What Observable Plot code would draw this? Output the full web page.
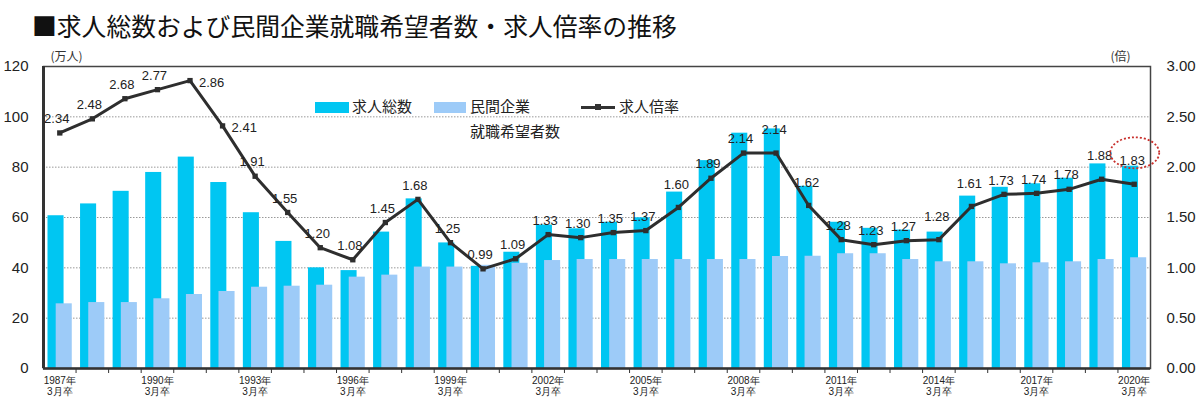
<!DOCTYPE html>
<html><head><meta charset="utf-8">
<script src="https://cdn.jsdelivr.net/npm/d3@7"></script>
<script src="https://cdn.jsdelivr.net/npm/@observablehq/plot@0.6"></script>
<style>
body{margin:0;background:#fff;font-family:"Noto Sans CJK JP","Noto Sans",sans-serif;}
#wrap{position:relative;width:1200px;height:408px;overflow:hidden;}
#title{position:absolute;left:32px;top:10px;font-size:24.8px;line-height:30px;color:#111;white-space:nowrap;}
#chart{position:absolute;left:0;top:44px;}
.lg{position:absolute;font-size:15px;line-height:18px;color:#222;white-space:nowrap;}
.sw{position:absolute;height:11px;}
</style></head>
<body>
<div id="wrap">
<div id="title">■求人総数および民間企業就職希望者数・求人倍率の推移</div>
<div id="chart"></div>
<div class="sw" style="left:315px;top:102px;width:34px;background:#00c6f2"></div>
<div class="lg" style="left:352px;top:97px">求人総数</div>
<div class="sw" style="left:434px;top:102px;width:32px;background:#9dcbf8"></div>
<div class="lg" style="left:470px;top:97px">民間企業</div>
<div style="position:absolute;left:581px;top:106px;width:34px;height:3px;background:#333"></div>
<div style="position:absolute;left:595px;top:104px;width:6px;height:6px;background:#333"></div>
<div class="lg" style="left:619px;top:97px">求人倍率</div>
<div class="lg" style="left:470px;top:122px">就職希望者数</div>
</div>
<script>
const years = [1987,1988,1989,1990,1991,1992,1993,1994,1995,1996,1997,1998,1999,2000,2001,2002,2003,2004,2005,2006,2007,2008,2009,2010,2011,2012,2013,2014,2015,2016,2017,2018,2019,2020];
const totalJobs = [60.7,65.4,70.4,77.9,84.0,73.9,61.9,50.5,40.0,38.9,54.2,67.4,49.9,40.6,46.2,57.0,55.5,58.1,59.9,70.1,82.6,93.5,95.2,72.4,58.1,55.7,55.0,54.2,68.5,72.0,73.4,75.6,81.3,80.4];
const privateSeekers = [25.7,26.2,26.2,27.7,29.4,30.6,32.3,32.7,33.1,36.3,37.1,40.3,40.3,41.0,41.8,42.9,43.3,43.3,43.3,43.3,43.3,43.3,44.5,44.6,45.6,45.6,43.3,42.4,42.4,41.6,42.0,42.4,43.3,44.0];
const ratio = [2.34,2.48,2.68,2.77,2.86,2.41,1.91,1.55,1.20,1.08,1.45,1.68,1.25,0.99,1.09,1.33,1.30,1.35,1.37,1.60,1.89,2.14,2.14,1.62,1.28,1.23,1.27,1.28,1.61,1.73,1.74,1.78,1.88,1.83];
const leftTicks = [0,20,40,60,80,100,120];
const tickYears = [1987,1990,1993,1996,1999,2002,2005,2008,2011,2014,2017,2020];

const data = years.map((y,i)=>({year:y,total:totalJobs[i],priv:privateSeekers[i],ratio:ratio[i]}));
const SCALE = 120/3; // left-axis units per ratio unit

const W = 1200, H = 364, mL = 43, mR = 50, mT = 22, mB = 40;
const bw = (W - mL - mR) / years.length;

const rightLabelYears = new Set([1991,1992]);
const highLabelYears = new Set([2006,2009,2010,2014,2015,2019,2020]);

const plot = Plot.plot({
  width: W, height: H,
  marginLeft: mL, marginRight: mR, marginTop: mT, marginBottom: mB,
  style: {fontFamily: "'Liberation Sans', Arial, sans-serif", color: "#222", background: "#fff"},
  x: {type: "band", domain: years, padding: 0, round: false, axis: null},
  y: {domain: [0,120], axis: null},
  marks: [
    Plot.gridY(leftTicks.slice(1,-1), {stroke: "#999", strokeOpacity: 1, strokeDasharray: "1.5,1.5", strokeWidth: 1}),
    Plot.barY(data, {x: "year", y: "total", fill: "#00c6f2", insetLeft: 4.5, insetRight: 12}),
    Plot.barY(data, {x: "year", y: "priv", fill: "#9dcbf8", insetLeft: 12.7, insetRight: 3.8}),
    Plot.frame({stroke: "#444", strokeWidth: 1.5}),
    Plot.ruleX([years[0]], {stroke: "#333", strokeWidth: 3, dx: -bw/2}),
    Plot.ruleY([0], {stroke: "#333", strokeWidth: 2.5}),
    Plot.axisY(leftTicks, {anchor: "left", tickSize: 0, tickPadding: 15, fontSize: 15, label: null, fill: "#222"}),
    Plot.axisY(leftTicks, {anchor: "right", tickSize: 0, tickPadding: 16, fontSize: 15, label: null, fill: "#222", tickFormat: d => (d/SCALE).toFixed(2)}),
    Plot.axisX(years.slice(1), {anchor: "bottom", tickSize: 5, stroke: "#333", tickFormat: () => "", dx: -bw/2, label: null}),
    Plot.axisX(tickYears, {anchor: "bottom", tickSize: 0, tickPadding: 7, fontSize: 10, lineHeight: 1.15, fill: "#222", label: null, tickFormat: d => `${d}年\n3月卒`}),
    Plot.text(["(万人)"], {frameAnchor: "top-left", dx: 7, dy: -14, fontSize: 12, fill: "#333", textAnchor: "start", fontFamily: "'Noto Sans CJK JP', sans-serif"}),
    Plot.text(["(倍)"], {frameAnchor: "top-right", dx: -20, dy: -14, fontSize: 12, fill: "#333", textAnchor: "end", fontFamily: "'Noto Sans CJK JP', sans-serif"}),
    Plot.line(data, {x: "year", y: d => d.ratio*SCALE, stroke: "#2e2e2e", strokeWidth: 3, curve: "linear"}),
    Plot.dot(data, {x: "year", y: d => d.ratio*SCALE, symbol: "square", r: 3, fill: "#2e2e2e", stroke: null}),
    Plot.text(data.filter(d => !rightLabelYears.has(d.year) && !highLabelYears.has(d.year)), {x: "year", y: d => d.ratio*SCALE, text: d => d.ratio.toFixed(2), dy: -14, dx: -3, fontSize: 13, fill: "#222"}),
    Plot.text(data.filter(d => highLabelYears.has(d.year)), {x: "year", y: d => d.ratio*SCALE, text: d => d.ratio.toFixed(2), dy: -23, dx: -2, fontSize: 13, fill: "#222"}),
    Plot.text(data.filter(d => rightLabelYears.has(d.year)), {x: "year", y: d => d.ratio*SCALE, text: d => d.ratio.toFixed(2), dx: 9, dy: 2, textAnchor: "start", fontSize: 13, fill: "#222"}),
    Plot.dot(data.filter(d => d.year === years[years.length-1]), {
      x: "year", y: d => d.ratio*SCALE,
      render: (index, scales, values) => {
        const g = d3.create("svg:g");
        for (const i of index) {
          g.append("ellipse")
            .attr("cx", values.x[i] + bw/2 + 1).attr("cy", values.y[i] - 31)
            .attr("rx", 24.5).attr("ry", 15.5)
            .attr("fill", "none").attr("stroke", "#c8302c")
            .attr("stroke-width", 1.8).attr("stroke-dasharray", "2,2");
        }
        return g.node();
      }
    })
  ]
});
document.getElementById("chart").appendChild(plot);
</script>
</body></html>
